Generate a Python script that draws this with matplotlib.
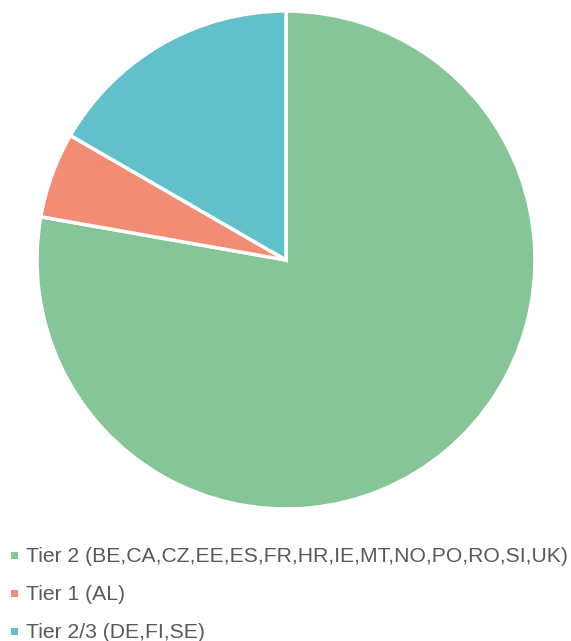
import matplotlib.pyplot as plt
from matplotlib.patches import Rectangle

labels = [
    "Tier 2 (BE,CA,CZ,EE,ES,FR,HR,IE,MT,NO,PO,RO,SI,UK)",
    "Tier 1 (AL)",
    "Tier 2/3 (DE,FI,SE)",
]
counts = [14, 1, 3]
colors = ["#86C597", "#F28C74", "#62C0CB"]

W, H = 571, 641
fig = plt.figure(figsize=(W / 100, H / 100), dpi=100)

# Pie area: centre (286, 260), radius ~249 px
ax = fig.add_axes([37 / W, (H - 509) / H, 498 / W, 498 / H])
ax.pie(counts, colors=colors, startangle=90, counterclock=False, radius=1,
       wedgeprops=dict(edgecolor="white", linewidth=2.5))
ax.set_xlim(-1.0, 1.0)
ax.set_ylim(-1.0, 1.0)
ax.set_aspect("auto")
ax.axis("off")

# Legend drawn by hand
ys = [555, 593, 631]
for lab, col, y in zip(labels, colors, ys):
    fig.patches.append(Rectangle((11 / W, (H - y - 3.5) / H), 7 / W, 7 / H,
                                 transform=fig.transFigure, facecolor=col,
                                 edgecolor="none"))
    fig.text(26 / W, (H - y - 2) / H, lab, fontsize=15.2, family="Liberation Sans",
             color="#595959", va="center", ha="left")

fig.savefig("out.png", dpi=100)
